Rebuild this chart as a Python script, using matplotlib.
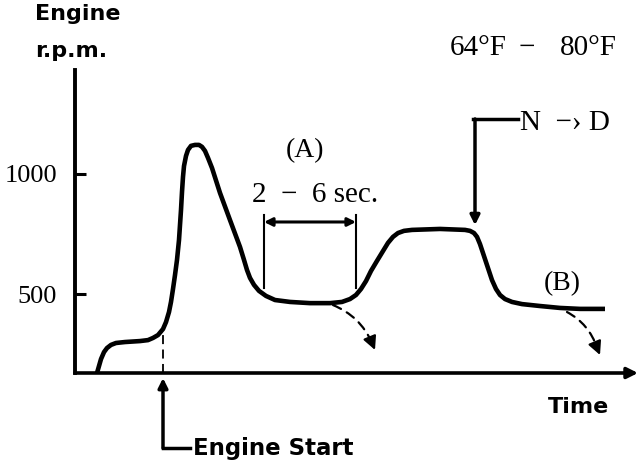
import matplotlib
matplotlib.use("Agg")
import matplotlib.pyplot as plt

# Curva de r.p.m. del motor (tiempo en unidades arbitrarias)
tiempo = [22, 24, 26, 29, 32, 36, 41, 50, 65, 73, 78, 83, 88, 91, 94, 96, 98,
          100, 102, 104, 106, 107, 108, 109, 111, 113, 116, 120, 124, 127, 130,
          133, 137, 145, 155, 165, 169, 172, 175, 179, 184, 191, 200, 215, 235,
          255, 267, 275, 281, 286, 291, 296, 302, 308, 313, 318, 323, 329, 337,
          365, 390, 395, 399, 402, 405, 409, 413, 417, 421, 425, 430, 437, 447,
          465, 485, 505, 530]
rpm = [171, 200, 229, 258, 275, 288, 296, 300, 304, 308, 317, 329, 354, 383,
       425, 467, 521, 579, 642, 725, 850, 925, 988, 1033, 1075, 1100, 1117,
       1121, 1121, 1113, 1096, 1067, 1025, 921, 808, 696, 642, 600, 567, 538,
       513, 492, 475, 467, 462, 462, 467, 479, 496, 521, 554, 596, 638, 679,
       713, 738, 754, 763, 767, 771, 767, 763, 754, 738, 708, 658, 608, 558,
       521, 496, 479, 467, 458, 450, 442, 438, 438]

ticks_y = [500, 1000]
ticks_lbl = ["500", "1000"]

serif = "Liberation Serif"
sans = "DejaVu Sans"

fig = plt.figure(figsize=(6.4, 4.66), dpi=100)
ax = fig.add_axes([75 / 640, 93 / 466, 561 / 640, 303 / 466])
ax.set_xlim(0, 561)
ax.set_ylim(171, 1433)

ax.plot(tiempo, rpm, color="black", lw=3.3, solid_capstyle="butt",
        solid_joinstyle="round")

# ejes
for s in ["top", "right", "bottom"]:
    ax.spines[s].set_visible(False)
ax.spines["left"].set_linewidth(2.8)
ax.annotate("", xy=(563, 171), xytext=(0, 171), annotation_clip=False,
            arrowprops=dict(arrowstyle="-|>", lw=2.6, color="black",
                            mutation_scale=16, shrinkA=0, shrinkB=0))
ax.set_xticks([])
ax.set_yticks(ticks_y)
ax.set_yticklabels(ticks_lbl, fontfamily=serif, fontsize=19)
ax.tick_params(axis="y", direction="in", length=8, width=2.2, pad=13)

kw = dict(clip_on=False, color="black")
ax.text(-40, 1642, "Engine", fontfamily=sans, fontweight="bold", fontsize=16, **kw)
ax.text(-40, 1488, "r.p.m.", fontfamily=sans, fontweight="bold", fontsize=16, **kw)
ax.text(375, 1496, "64°F", fontfamily=serif, fontsize=21, **kw)
ax.text(452, 1496, "−", fontfamily=serif, fontsize=21, ha="center", **kw)
ax.text(513, 1496, "80°F", fontfamily=serif, fontsize=21, ha="center", **kw)
ax.text(504, 4, "Time", fontfamily=sans, fontweight="bold", fontsize=16, ha="center", **kw)

# (A) 2 - 6 seg
ax.text(230, 1071, "(A)", fontfamily=serif, fontsize=20, ha="center", **kw)
ax.text(240, 883, "2  −  6 sec.", fontfamily=serif, fontsize=21, ha="center", **kw)
ax.plot([189, 189], [525, 829], color="black", lw=1.5)
ax.plot([281, 281], [525, 829], color="black", lw=1.5)
ax.annotate("", xy=(281, 800), xytext=(189, 800),
            arrowprops=dict(arrowstyle="<|-|>", lw=2.2, color="black",
                            mutation_scale=12, shrinkA=0, shrinkB=0))

# N -> D
ax.plot([398, 443], [1229, 1229], color="black", lw=2.5, clip_on=False)
ax.annotate("", xy=(400, 787), xytext=(400, 1229), annotation_clip=False,
            arrowprops=dict(arrowstyle="-|>", lw=2.5, color="black",
                            mutation_scale=14, shrinkA=0, shrinkB=0))
ax.text(445, 1183, "N  −› D", fontfamily=serif, fontsize=21, **kw)

# (B)
ax.text(487, 517, "(B)", fontfamily=serif, fontsize=20, ha="center", **kw)

# flechas punteadas
for x0, y0, x1, y1 in [(258, 454, 300, 267), (492, 425, 525, 246)]:
    ax.annotate("", xy=(x1 - 3, y1 + 30), xytext=(x0, y0),
                arrowprops=dict(arrowstyle="-", lw=1.6, ls=(0, (4, 3)),
                                color="black",
                                connectionstyle="arc3,rad=-0.2",
                                shrinkA=0, shrinkB=0))
    ax.annotate("", xy=(x1, y1), xytext=(x1 - 4, y1 + 40),
                arrowprops=dict(arrowstyle="-|>", lw=1.6, color="black",
                                mutation_scale=20, shrinkA=0, shrinkB=0))

# arranque del motor
ax.plot([88, 88], [171, 354], color="black", lw=1.3, ls=(0, (5, 3)))
ax.annotate("", xy=(88, 150), xytext=(88, -142), annotation_clip=False,
            arrowprops=dict(arrowstyle="-|>", lw=2.5, color="black",
                            mutation_scale=14, shrinkA=0, shrinkB=0))
ax.plot([88, 115], [-142, -142], color="black", lw=2.5, clip_on=False)
ax.text(118, -171, "Engine Start", fontfamily=sans, fontweight="bold", fontsize=16.5, **kw)

fig.savefig("out.png", dpi=100)
